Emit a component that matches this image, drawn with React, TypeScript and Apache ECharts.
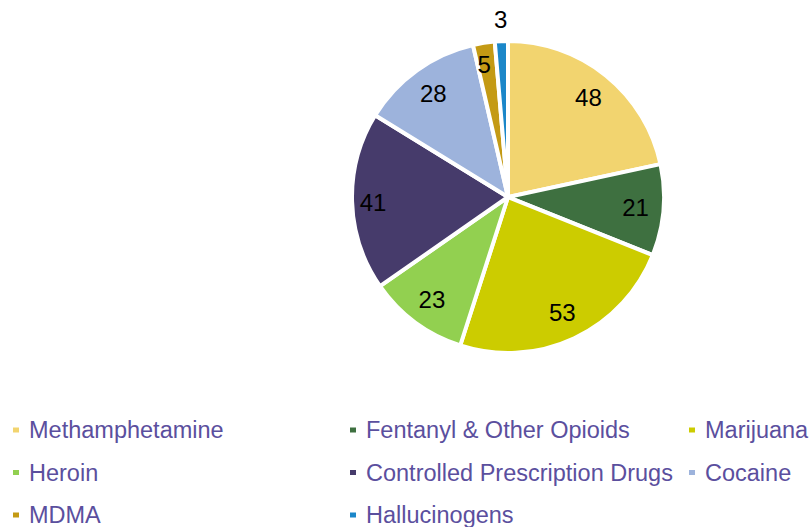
import React, { useEffect, useRef } from "react";
import * as echarts from "echarts";

const categories = [
  "Methamphetamine",
  "Fentanyl & Other Opioids",
  "Marijuana",
  "Heroin",
  "Controlled Prescription Drugs",
  "Cocaine",
  "MDMA",
  "Hallucinogens",
];
const values = [48, 21, 53, 23, 41, 28, 5, 3];
const colors = [
  "#F2D46F",
  "#3E7040",
  "#CCCC00",
  "#92D050",
  "#463B6B",
  "#9DB3DC",
  "#C49A14",
  "#1B87C9",
];
const legendColumns = [
  ["Methamphetamine", "Heroin", "MDMA"],
  ["Fentanyl & Other Opioids", "Controlled Prescription Drugs", "Hallucinogens"],
  ["Marijuana", "Cocaine"],
];

const FONT = "'Liberation Sans', Arial, sans-serif";
const labelOffsets: Record<string, number[]> = {
  "Controlled Prescription Drugs": [-7, 2],
  MDMA: [-4, -6],
  Hallucinogens: [-2, -50],
};

export default function App() {
  const ref = useRef<HTMLDivElement>(null);
  useEffect(() => {
    if (!ref.current) return;
    const chart = echarts.init(ref.current, null, { renderer: "svg" });
    const center = [508, 197];
    const legendLefts = [11, 348, 687];
    chart.setOption({
      animation: false,
      color: colors,
      legend: legendColumns.map((col, i) => ({
        data: col,
        orient: "vertical",
        left: legendLefts[i],
        top: 418,
        padding: 0,
        itemGap: 18.5,
        itemWidth: 8,
        itemHeight: 7,
        icon: "rect",
        selectedMode: false,
        textStyle: {
          fontFamily: FONT,
          fontSize: 23.5,
          color: "#5B4F9E",
          lineHeight: 24,
          padding: [0, 0, 0, 4],
        },
      })),
      series: [
        {
          type: "pie",
          center,
          radius: [0, 156],
          startAngle: 90,
          clockwise: true,
          silent: true,
          label: { show: false },
          labelLine: { show: false },
          itemStyle: { borderColor: "#ffffff", borderWidth: 4 },
          data: categories.map((name, i) => ({
            name,
            value: values[i],
            itemStyle: { color: colors[i] },
          })),
        },
        {
          type: "pie",
          center,
          radius: [0, 250],
          startAngle: 90,
          clockwise: true,
          silent: true,
          legendHoverLink: false,
          itemStyle: { color: "rgba(0,0,0,0)" },
          labelLine: { show: false },
          label: {
            show: true,
            position: "inside",
            formatter: "{c}",
            fontFamily: FONT,
            fontSize: 24,
            color: "#000000",
          },
          data: categories.map((name, i) => ({
            name,
            value: values[i],
            label: labelOffsets[name] ? { offset: labelOffsets[name] } : undefined,
          })),
        },
      ],
    });
    return () => chart.dispose();
  }, []);
  return (
    <div
      ref={ref}
      style={{ position: "absolute", left: 0, top: 0, width: 809, height: 527 }}
    />
  );
}
